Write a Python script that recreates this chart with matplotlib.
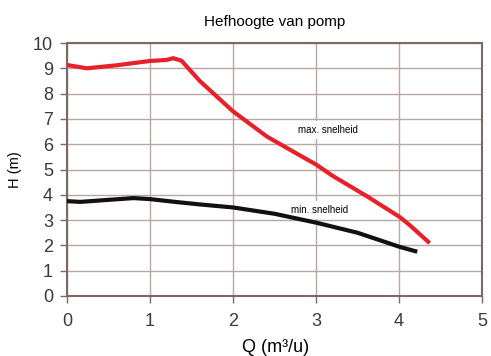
import matplotlib
matplotlib.use("Agg")
import matplotlib.pyplot as plt

plt.rcParams["font.family"] = ["Liberation Sans", "DejaVu Sans"]

# pump curves (Q in m3/u, H in m)
q_max = [0.0, 0.24, 0.6, 1.0, 1.2, 1.28, 1.38, 1.6, 2.0, 2.41, 2.81, 3.0, 3.2, 3.61, 4.01, 4.13, 4.37]
h_max = [9.13, 9.0, 9.12, 9.29, 9.33, 9.4, 9.3, 8.5, 7.3, 6.3, 5.55, 5.2, 4.75, 3.95, 3.12, 2.8, 2.09]

q_min = [0.0, 0.16, 0.5, 0.8, 1.0, 1.3, 1.6, 2.0, 2.5, 3.0, 3.5, 4.01, 4.22]
h_min = [3.75, 3.72, 3.8, 3.87, 3.83, 3.72, 3.62, 3.5, 3.25, 2.9, 2.5, 1.94, 1.75]

xticks = [0, 1, 2, 3, 4, 5]
yticks = list(range(0, 11))

fig = plt.figure(figsize=(4.91, 3.56), dpi=100)
ax = fig.add_axes([67 / 491, 1 - 296 / 356, 415 / 491, 253 / 356])

grid_c = "#b8a6a2"
spine_c = "#7d6964"

ax.plot(q_max, h_max, color="#e8202a", lw=3.0, solid_capstyle="butt", zorder=3)
ax.plot(q_min, h_min, color="#111111", lw=3.0, solid_capstyle="butt", zorder=3)

ax.set_xlim(0, 5)
ax.set_ylim(0, 10)
ax.set_xticks(xticks)
ax.set_yticks(yticks)
ax.grid(True, color=grid_c, lw=1.0)
ax.set_axisbelow(True)
for s in ax.spines.values():
    s.set_color(spine_c)
    s.set_linewidth(1.5)
ax.tick_params(colors=spine_c, labelcolor="#3a3a3a", labelsize=13, length=5, width=1)
ax.tick_params(axis="y", pad=5)
ax.tick_params(axis="x", pad=7)

# curve labels sit on white boxes behind the curves
ax.text(3.14, 6.56, "max. snelheid", fontsize=7, ha="center", va="center",
        bbox=dict(facecolor="white", edgecolor="none", pad=3), zorder=2.5)
ax.text(3.04, 3.40, "min. snelheid", fontsize=7, ha="center", va="center",
        bbox=dict(facecolor="white", edgecolor="none", pad=3), zorder=2.5)

fig.text(275 / 491, 1 - 22 / 356, "Hefhoogte van pomp", fontsize=11, ha="center", va="center")
fig.text(276 / 491, 1 - 347 / 356, "Q (m³/u)", fontsize=13, ha="center", va="center")
fig.text(15 / 491, 1 - 170 / 356, "H (m)", fontsize=10.5, ha="center", va="center", rotation=90)

fig.savefig("out.png", dpi=100)
